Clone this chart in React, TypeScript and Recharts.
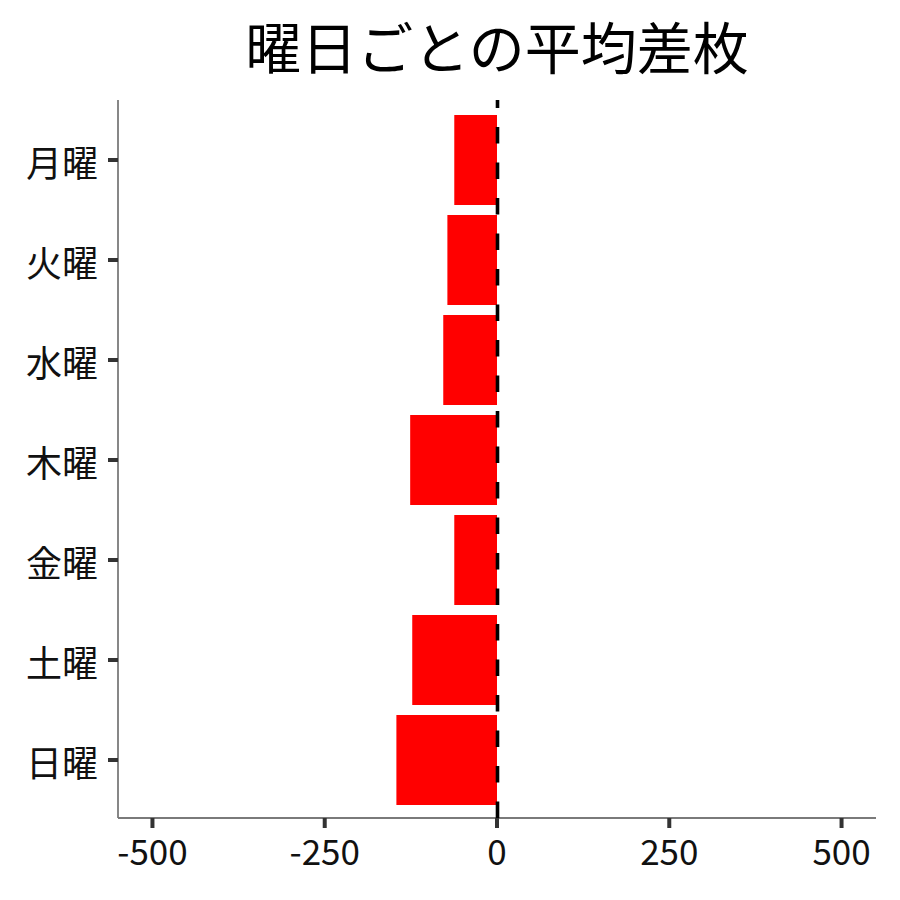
import React from 'react';
import { BarChart, Bar, XAxis, YAxis, ReferenceLine } from 'recharts';

const days = ['月曜', '火曜', '水曜', '木曜', '金曜', '土曜', '日曜'];
const diffs = [-62, -72, -78, -126, -62, -123, -146];
const xTicks = [-500, -250, 0, 250, 500];
const xDomain = [-550, 550];
const title = '曜日ごとの平均差枚';

const data = days.map((d, i) => ({ day: d, diff: diffs[i] }));

const FONT = '"Noto Sans CJK JP", "Noto Sans", sans-serif';

const XTick = (props: any) => {
  const { x, y, payload } = props;
  return (
    <g>
      <line x1={x} x2={x} y1={y - 10} y2={y} stroke="#333" strokeWidth={4} />
      <text x={x} y={y} dy={37} textAnchor="middle" fontFamily={FONT} fontSize={35} fill="#111">
        {payload.value}
      </text>
    </g>
  );
};

const YTick = (props: any) => {
  const { x, y, payload } = props;
  return (
    <g>
      <line x1={x + 10} x2={x} y1={y} y2={y} stroke="#333" strokeWidth={4} />
      <text x={x - 10} y={y} dy={1} textAnchor="end" dominantBaseline="central" fontFamily={FONT} fontSize={36} fill="#111">
        {payload.value}
      </text>
    </g>
  );
};

const ZeroLine = (props: any) => {
  const { x1, x2, y1, y2 } = props;
  return (
    <line
      x1={x1 + 0.5}
      x2={x2 + 0.5}
      y1={Math.max(y1, y2)}
      y2={Math.min(y1, y2)}
      stroke="#000"
      strokeWidth={3.6}
      strokeDasharray="16.5 19"
    />
  );
};

const margin = { top: 100, right: 24, bottom: 22, left: 0 };

export default function App() {
  return (
    <div style={{ position: 'absolute', left: 0, top: 0, width: 900, height: 900, background: '#fff' }}>
      <div
        style={{
          position: 'absolute',
          left: 118,
          width: 758,
          top: 17,
          height: 56,
          lineHeight: 1,
          fontSize: 56,
          fontFamily: FONT,
          textAlign: 'center',
          color: '#000',
        }}
      >
        {title}
      </div>
      <div style={{ position: 'absolute', left: 0, top: 0 }}>
        <BarChart width={900} height={900} data={data} layout="vertical" margin={margin} barCategoryGap={5}>
          <XAxis
            type="number"
            domain={xDomain}
            ticks={xTicks}
            allowDataOverflow
            height={60}
            tickSize={10}
            tickMargin={0}
            axisLine={{ stroke: '#7a7a7a', strokeWidth: 1.8 }}
            tickLine={false}
            tick={<XTick />}
          />
          <YAxis
            type="category"
            dataKey="day"
            width={118}
            padding={{ top: 10, bottom: 8 }}
            tickSize={10}
            tickMargin={0}
            axisLine={{ stroke: '#7a7a7a', strokeWidth: 1.8 }}
            tickLine={false}
            tick={<YTick />}
          />
          <Bar dataKey="diff" fill="#ff0000" isAnimationActive={false} />
        </BarChart>
      </div>
      <div style={{ position: 'absolute', left: 0, top: 0, pointerEvents: 'none' }}>
        <BarChart width={900} height={900} data={data} layout="vertical" margin={margin}>
          <XAxis type="number" domain={xDomain} ticks={xTicks} allowDataOverflow height={60} tick={false} axisLine={false} tickLine={false} />
          <YAxis type="category" dataKey="day" width={118} tick={false} axisLine={false} tickLine={false} />
          <ReferenceLine x={0} shape={<ZeroLine />} />
        </BarChart>
      </div>
    </div>
  );
}
